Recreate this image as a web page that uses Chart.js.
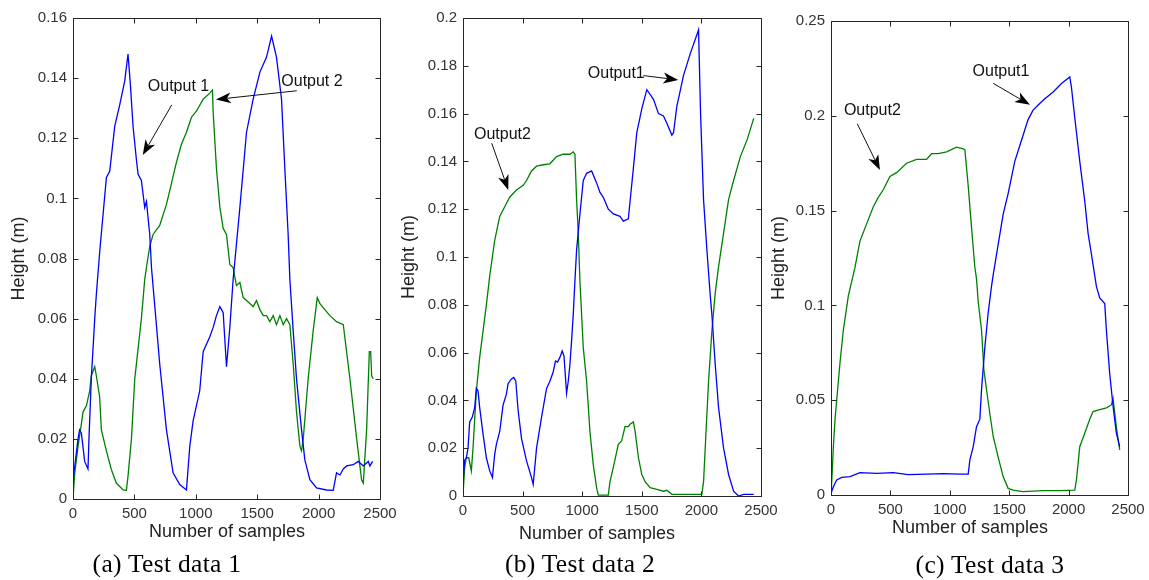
<!DOCTYPE html>
<html>
<head>
<meta charset="utf-8">
<script src="https://cdn.jsdelivr.net/npm/chart.js@4.4.1/dist/chart.umd.min.js"></script>
<style>
html,body{margin:0;padding:0;background:#fff;width:1149px;height:580px;overflow:hidden;}
#wrap{position:relative;width:1149px;height:580px;background:#fff;}
canvas{position:absolute;left:0;top:0;pointer-events:none;}
.cap{position:absolute;font-family:"Liberation Serif","Times New Roman",serif;font-size:25.5px;letter-spacing:0.3px;color:#000;white-space:nowrap;transform:translateX(-50%);line-height:26px;}
</style>
</head>
<body>
<div id="wrap">
<canvas id="c1" width="1149" height="580"></canvas>
<canvas id="c2" width="1149" height="580"></canvas>
<canvas id="c3" width="1149" height="580"></canvas>
<div class="cap" style="left:167px;top:551px">(a) Test data 1</div>
<div class="cap" style="left:580px;top:551px">(b) Test data 2</div>
<div class="cap" style="left:990px;top:552px">(c) Test data 3</div>
</div>
<script>
// ---------------- data (samples, height in m) ----------------
const xTickValues = [0, 500, 1000, 1500, 2000, 2500];
const xTickLabels = ['0', '500', '1000', '1500', '2000', '2500'];

const yTickValues1 = [0, 0.02, 0.04, 0.06, 0.08, 0.1, 0.12, 0.14, 0.16];
const yTickLabels1 = ['0', '0.02', '0.04', '0.06', '0.08', '0.1', '0.12', '0.14', '0.16'];
const yTickValues2 = [0, 0.02, 0.04, 0.06, 0.08, 0.1, 0.12, 0.14, 0.16, 0.18, 0.2];
const yTickLabels2 = ['0', '0.02', '0.04', '0.06', '0.08', '0.1', '0.12', '0.14', '0.16', '0.18', '0.2'];
const yTickValues3 = [0, 0.05, 0.1, 0.15, 0.2, 0.25];
const yTickLabels3 = ['0', '0.05', '0.1', '0.15', '0.2', '0.25'];

const xAxisTitle = 'Number of samples';
const yAxisTitle = 'Height (m)';

// Test data 1
const test1Output1 = [[0,0.006],[41,0.02],[54,0.023],[68,0.022],[95,0.0125],[122,0.01],[130,0.02],[149,0.04],[177,0.06],[190,0.068],[217,0.082],[272,0.107],[299,0.109],[340,0.124],[380,0.131],[421,0.139],[448,0.148],[456,0.148],[467,0.138],[489,0.124],[516,0.113],[530,0.108],[557,0.106],[584,0.097],[598,0.099],[625,0.088],[639,0.077],[658,0.068],[679,0.058],[706,0.045],[761,0.023],[815,0.0087],[869,0.0048],[924,0.003],[951,0.0175],[978,0.026],[1032,0.036],[1060,0.049],[1114,0.054],[1141,0.057],[1168,0.061],[1196,0.064],[1223,0.062],[1250,0.044],[1277,0.057],[1304,0.073],[1359,0.097],[1413,0.122],[1467,0.133],[1522,0.142],[1576,0.147],[1617,0.154],[1657,0.147],[1698,0.133],[1725,0.11],[1752,0.088],[1766,0.073],[1793,0.056],[1820,0.04],[1861,0.023],[1888,0.013],[1929,0.0064],[1983,0.0037],[2065,0.003],[2119,0.0029],[2146,0.0087],[2174,0.008],[2201,0.01],[2228,0.011],[2282,0.0114],[2323,0.0125],[2364,0.011],[2405,0.0125],[2418,0.011],[2440,0.0125]];
const test1Output2 = [[0,0],[14,0.0087],[41,0.0175],[68,0.025],[82,0.029],[109,0.031],[136,0.036],[149,0.041],[177,0.044],[190,0.041],[217,0.034],[231,0.023],[272,0.016],[312,0.0098],[353,0.0053],[408,0.003],[435,0.0029],[448,0.0076],[476,0.02],[503,0.04],[557,0.06],[584,0.073],[598,0.077],[625,0.084],[652,0.088],[706,0.091],[761,0.098],[802,0.105],[842,0.112],[883,0.118],[924,0.122],[965,0.127],[1005,0.129],[1060,0.133],[1114,0.135],[1136,0.136],[1141,0.129],[1168,0.11],[1196,0.097],[1223,0.09],[1250,0.088],[1277,0.078],[1304,0.077],[1331,0.071],[1359,0.072],[1386,0.067],[1413,0.066],[1440,0.065],[1467,0.064],[1494,0.066],[1522,0.063],[1549,0.061],[1576,0.061],[1603,0.059],[1630,0.061],[1657,0.058],[1685,0.061],[1712,0.058],[1739,0.06],[1766,0.058],[1793,0.045],[1820,0.029],[1848,0.0175],[1861,0.016],[1875,0.02],[1915,0.04],[1956,0.056],[1989,0.067],[2011,0.065],[2051,0.063],[2092,0.061],[2146,0.059],[2201,0.058],[2255,0.04],[2310,0.02],[2350,0.0064],[2364,0.0053],[2391,0.023],[2413,0.049],[2424,0.049],[2432,0.041],[2445,0.04]];

// Test data 2
const test2Output1 = [[0,0.0063],[14,0.015],[28,0.016],[42,0.02],[56,0.031],[78,0.033],[98,0.037],[112,0.045],[126,0.044],[140,0.037],[168,0.026],[196,0.016],[224,0.0105],[247,0.0077],[266,0.0175],[280,0.0216],[308,0.027],[336,0.038],[364,0.0426],[378,0.047],[406,0.049],[426,0.0496],[443,0.048],[462,0.036],[491,0.024],[533,0.0147],[575,0.0077],[589,0.0049],[617,0.02],[659,0.033],[701,0.045],[729,0.048],[757,0.052],[776,0.0565],[793,0.056],[813,0.058],[832,0.0607],[847,0.0586],[869,0.043],[883,0.048],[897,0.055],[911,0.065],[925,0.076],[939,0.09],[953,0.103],[981,0.118],[1009,0.132],[1037,0.135],[1079,0.136],[1121,0.131],[1149,0.127],[1177,0.125],[1219,0.12],[1261,0.118],[1317,0.117],[1345,0.115],[1387,0.116],[1401,0.123],[1429,0.137],[1458,0.152],[1500,0.162],[1542,0.17],[1598,0.166],[1640,0.16],[1682,0.159],[1710,0.156],[1752,0.151],[1766,0.152],[1794,0.163],[1850,0.176],[1906,0.185],[1948,0.191],[1976,0.195],[1993,0.16],[2018,0.124],[2046,0.103],[2074,0.084],[2088,0.076],[2116,0.055],[2144,0.037],[2186,0.02],[2228,0.009],[2270,0.002],[2312,0],[2355,0.0007],[2439,0.0007]];
const test2Output2 = [[0,0],[14,0.012],[28,0.016],[48,0.016],[70,0.0105],[84,0.02],[112,0.044],[140,0.058],[168,0.069],[196,0.08],[224,0.092],[266,0.107],[308,0.117],[350,0.121],[392,0.125],[448,0.128],[505,0.13],[533,0.132],[575,0.136],[617,0.138],[673,0.1386],[729,0.139],[785,0.142],[841,0.143],[897,0.143],[925,0.144],[939,0.143],[953,0.124],[967,0.11],[981,0.09],[1009,0.062],[1037,0.048],[1065,0.027],[1093,0.013],[1121,0.0035],[1135,0.0004],[1219,0.0004],[1233,0.006],[1261,0.012],[1303,0.0216],[1331,0.023],[1359,0.029],[1387,0.029],[1401,0.03],[1429,0.031],[1444,0.027],[1472,0.016],[1500,0.009],[1528,0.006],[1570,0.0035],[1626,0.0028],[1682,0.002],[1710,0.0024],[1752,0.0007],[2004,0.0007],[2018,0.006],[2032,0.02],[2060,0.048],[2088,0.069],[2116,0.085],[2144,0.096],[2186,0.11],[2228,0.124],[2270,0.132],[2327,0.142],[2383,0.149],[2439,0.158]];

// Test data 3
const test3Output1 = [[0,0.0009],[20,0.0044],[48,0.0079],[90,0.0093],[160,0.0097],[244,0.0118],[384,0.0114],[524,0.0118],[650,0.0107],[804,0.011],[950,0.0113],[1085,0.011],[1155,0.011],[1169,0.0185],[1197,0.0255],[1225,0.036],[1253,0.04],[1267,0.0555],[1295,0.078],[1323,0.096],[1351,0.11],[1365,0.116],[1407,0.132],[1449,0.148],[1491,0.159],[1547,0.176],[1603,0.187],[1659,0.198],[1701,0.203],[1757,0.2065],[1800,0.209],[1870,0.2126],[1940,0.217],[2010,0.2205],[2024,0.215],[2052,0.199],[2094,0.176],[2136,0.155],[2164,0.138],[2192,0.127],[2234,0.11],[2262,0.104],[2304,0.101],[2318,0.087],[2346,0.064],[2374,0.047],[2402,0.0326],[2430,0.0255]];
const test3Output2 = [[0,0],[11,0.013],[20,0.0255],[34,0.04],[48,0.05],[76,0.07],[104,0.087],[146,0.105],[202,0.12],[244,0.134],[300,0.143],[356,0.152],[398,0.157],[440,0.161],[496,0.168],[552,0.17],[636,0.175],[720,0.177],[804,0.177],[847,0.18],[903,0.18],[973,0.181],[1057,0.1835],[1113,0.1826],[1127,0.182],[1155,0.163],[1183,0.141],[1211,0.12],[1225,0.114],[1239,0.102],[1267,0.087],[1287,0.066],[1309,0.0555],[1337,0.043],[1365,0.031],[1407,0.02],[1449,0.0097],[1491,0.0035],[1533,0.0026],[1617,0.0018],[1785,0.0023],[1926,0.0023],[2052,0.0026],[2066,0.008],[2094,0.0255],[2136,0.0326],[2178,0.04],[2206,0.044],[2262,0.045],[2318,0.046],[2360,0.0475],[2374,0.051],[2402,0.036],[2430,0.0238]];

// Annotations (in data units: [sample, height])
const test1Notes = [
  {text: 'Output 1', at: [859, 0.1372], from: [804, 0.1311], to: [568, 0.1144]},
  {text: 'Output 2', at: [1946, 0.139], from: [1822, 0.1358], to: [1164, 0.1329]}
];
const test2Notes = [
  {text: 'Output1', at: [1286, 0.1768], from: [1513, 0.1759], to: [1806, 0.1741]},
  {text: 'Output2', at: [331, 0.1512], from: [241, 0.1476], to: [380, 0.128]}
];
const test3Notes = [
  {text: 'Output1', at: [1431, 0.2235], from: [1366, 0.2171], to: [1675, 0.2058]},
  {text: 'Output2', at: [348, 0.2025], from: [221, 0.1958], to: [412, 0.1714]}
];

// ---------------- drawing ----------------
const SANS = '"Liberation Sans", Arial, Helvetica, sans-serif';
const W = 1149, H = 580, YW = 60, XH = 40;

const framePlugin = {
  id: 'frame',
  afterDatasetsDraw(chart, args, opts) {
    const {ctx, chartArea: a, scales: {x, y}} = chart;
    ctx.save();
    const L = Math.round(a.left) + 0.5, R = Math.round(a.right) + 0.5;
    const T = Math.round(a.top) + 0.5, B = Math.round(a.bottom) + 0.5;
    ctx.strokeStyle = '#262626';
    ctx.lineWidth = 1;
    ctx.beginPath();
    ctx.rect(L, T, R - L, B - T);
    const tl = 5;
    x.ticks.forEach(t => {
      const px = Math.round(x.getPixelForValue(t.value)) + 0.5;
      ctx.moveTo(px, B); ctx.lineTo(px, B - tl);
      ctx.moveTo(px, T); ctx.lineTo(px, T + tl);
    });
    y.ticks.forEach(t => {
      const py = Math.round(y.getPixelForValue(t.value)) + 0.5;
      ctx.moveTo(L, py); ctx.lineTo(L + tl, py);
      ctx.moveTo(R, py); ctx.lineTo(R - tl, py);
    });
    ctx.stroke();

    // axis titles
    ctx.fillStyle = '#222';
    ctx.font = '18px ' + SANS;
    ctx.textAlign = 'center';
    ctx.textBaseline = 'alphabetic';
    ctx.fillText(xAxisTitle, opts.xTitleX, opts.xTitleY);
    ctx.save();
    ctx.translate(opts.yTitleX, (a.top + a.bottom) / 2);
    ctx.rotate(-Math.PI / 2);
    ctx.textBaseline = 'middle';
    ctx.fillText(yAxisTitle, 0, 0);
    ctx.restore();

    // annotations
    ctx.font = '16px ' + SANS;
    ctx.fillStyle = '#111';
    ctx.textAlign = 'center';
    ctx.textBaseline = 'middle';
    (opts.notes || []).forEach(n => {
      ctx.fillText(n.text, x.getPixelForValue(n.at[0]), y.getPixelForValue(n.at[1]));
      const x0 = x.getPixelForValue(n.from[0]), y0 = y.getPixelForValue(n.from[1]);
      const x1 = x.getPixelForValue(n.to[0]), y1 = y.getPixelForValue(n.to[1]);
      const dx = x1 - x0, dy = y1 - y0, len = Math.hypot(dx, dy);
      const ux = dx / len, uy = dy / len, nx = -uy, ny = ux;
      const hl = 15, hw = 5.5, notch = 11;
      ctx.strokeStyle = '#111';
      ctx.lineWidth = 1;
      ctx.beginPath();
      ctx.moveTo(x0, y0);
      ctx.lineTo(x1 - ux * notch, y1 - uy * notch);
      ctx.stroke();
      ctx.beginPath();
      ctx.moveTo(x1, y1);
      ctx.lineTo(x1 - ux * hl + nx * hw, y1 - uy * hl + ny * hw);
      ctx.lineTo(x1 - ux * notch, y1 - uy * notch);
      ctx.lineTo(x1 - ux * hl - nx * hw, y1 - uy * hl - ny * hw);
      ctx.closePath();
      ctx.fillStyle = '#000';
      ctx.fill();
      ctx.fillStyle = '#111';
    });
    ctx.restore();
  }
};

function toPoints(arr) { return arr.map(p => ({x: p[0], y: p[1]})); }

function makeChart(id, cfg) {
  return new Chart(document.getElementById(id), {
    type: 'line',
    data: {
      datasets: [
        {label: 'Output 1', data: toPoints(cfg.out1), borderColor: '#0000ff', borderWidth: 1.3, pointRadius: 0, tension: 0, fill: false},
        {label: 'Output 2', data: toPoints(cfg.out2), borderColor: '#008000', borderWidth: 1.3, pointRadius: 0, tension: 0, fill: false}
      ]
    },
    options: {
      responsive: false,
      animation: false,
      events: [],
      layout: {padding: {left: cfg.left - YW, right: W - cfg.right, top: cfg.top, bottom: H - cfg.bottom - XH}},
      plugins: {
        legend: {display: false},
        tooltip: {enabled: false},
        frame: {notes: cfg.notes, xTitleX: cfg.xTitleX, xTitleY: cfg.xTitleY, yTitleX: cfg.yTitleX}
      },
      scales: {
        x: {
          type: 'linear', min: 0, max: 2500,
          grid: {display: false, drawTicks: false},
          border: {display: false},
          afterBuildTicks: s => { s.ticks = xTickValues.map(v => ({value: v})); },
          afterFit: s => { s.height = XH; s.paddingLeft = 0; s.paddingRight = 0; },
          ticks: {
            padding: 6, maxRotation: 0, minRotation: 0, autoSkip: false, color: '#333',
            font: {family: SANS, size: 15},
            callback: v => xTickLabels[xTickValues.indexOf(v)]
          }
        },
        y: {
          type: 'linear', min: 0, max: cfg.yMax,
          grid: {display: false, drawTicks: false},
          border: {display: false},
          afterBuildTicks: s => { s.ticks = cfg.yVals.map(v => ({value: v})); },
          afterFit: s => { s.width = YW; s.paddingTop = 0; s.paddingBottom = 0; },
          ticks: {
            padding: 6, autoSkip: false, color: '#333',
            font: {family: SANS, size: 15},
            callback: v => cfg.yLabs[cfg.yVals.indexOf(v)]
          }
        }
      }
    },
    plugins: [framePlugin]
  });
}

makeChart('c1', {out1: test1Output1, out2: test1Output2, notes: test1Notes,
  left: 73, right: 380, top: 18, bottom: 499, yMax: 0.16, yVals: yTickValues1, yLabs: yTickLabels1,
  xTitleX: 227, xTitleY: 537, yTitleX: 19});
makeChart('c2', {out1: test2Output1, out2: test2Output2, notes: test2Notes,
  left: 463, right: 761, top: 18, bottom: 496, yMax: 0.2, yVals: yTickValues2, yLabs: yTickLabels2,
  xTitleX: 597, xTitleY: 539, yTitleX: 409});
makeChart('c3', {out1: test3Output1, out2: test3Output2, notes: test3Notes,
  left: 831, right: 1128, top: 21, bottom: 495, yMax: 0.25, yVals: yTickValues3, yLabs: yTickLabels3,
  xTitleX: 970, xTitleY: 533, yTitleX: 779});
</script>
</body>
</html>
